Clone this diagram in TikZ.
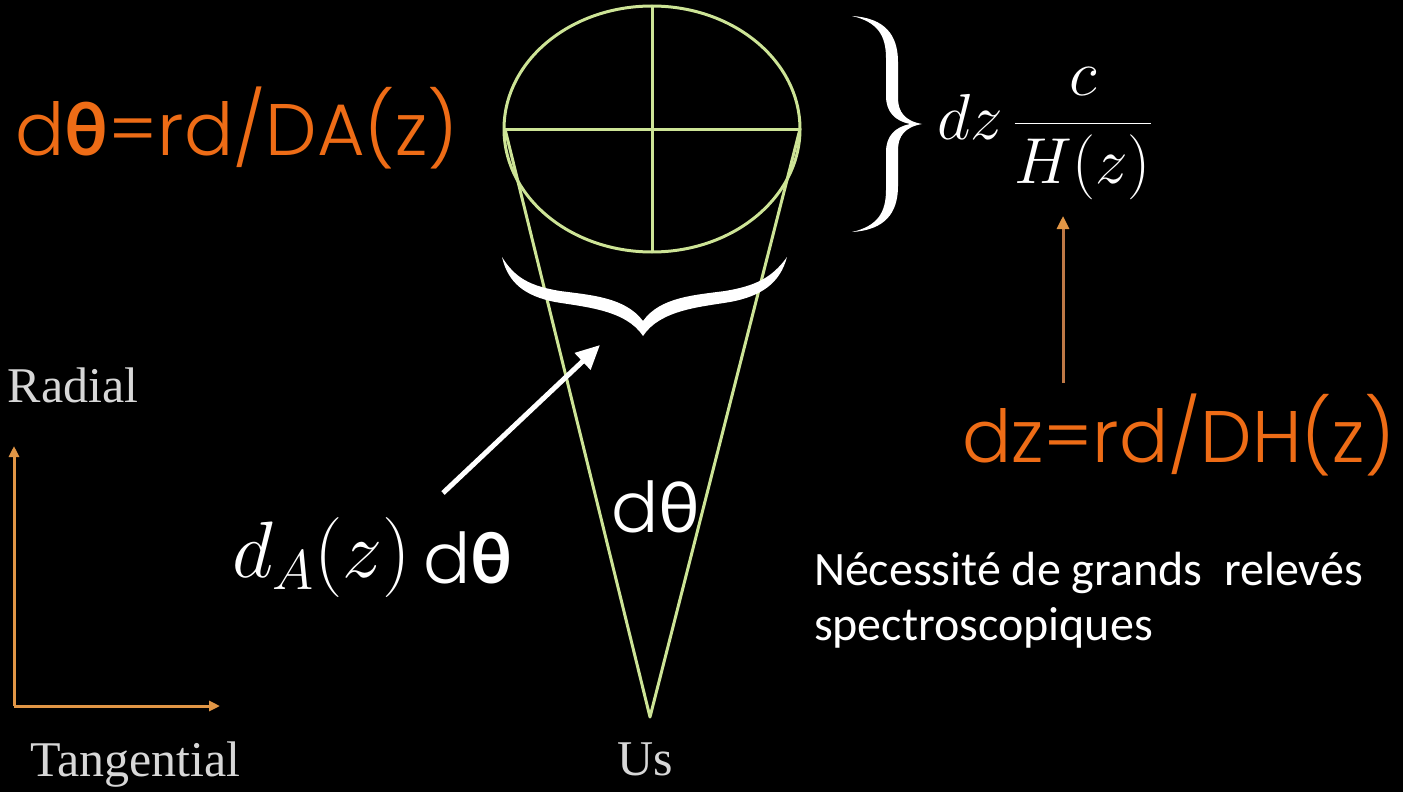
\RequirePackage{fix-cm}
\documentclass[tikz,border=0pt]{standalone}
\usepackage{fontspec}
\usetikzlibrary{arrows.meta}
\newfontfamily\geo{Poppins Light}
\newfontfamily\thfont{Lato}
\newfontfamily\carl{Carlito}
\newfontfamily\tms{Liberation Serif}
\definecolor{orng}{RGB}{238,108,22}
\definecolor{axisor}{RGB}{225,150,70}
\definecolor{arrbr}{RGB}{190,120,70}
\definecolor{cone}{RGB}{205,228,150}
\definecolor{serifgray}{RGB}{215,215,215}
\newcommand\bth{{\thfont\bfseries θ}}
\newcommand\rth{{\thfont θ}}
\tikzset{
  txt/.style={inner sep=0pt, outer sep=0pt, anchor=base west},
  bigsans/.style={txt, font=\geo\fontsize{73}{78}\selectfont},
  midsans/.style={txt, text=white, font=\geo\fontsize{70}{76}\selectfont},
  orangetxt/.style={bigsans, text=orng},
  serif/.style={txt, text=serifgray, font=\tms\fontsize{50}{54}\selectfont},
  necstyle/.style={txt, text=white, font=\carl\fontsize{48}{55}\selectfont},
  conel/.style={draw=cone, line width=3pt},
  axarrow/.style={draw=axisor, line width=3pt, -{Triangle[length=11pt,width=10pt]}},
}
\begin{document}
\begin{tikzpicture}[x=1pt,y=-1pt]
\fill[black] (0,0) rectangle (1403,792);
\useasboundingbox (0,0) rectangle (1403,792);

% cone and ellipse
\coordinate (eL) at (505,129);
\coordinate (eR) at (800,129);
\coordinate (eT) at (652,6);
\coordinate (eB) at (652,252);
\coordinate (apex) at (650,717);
\draw[conel] (652,129) ellipse [x radius=148pt, y radius=123pt];
\draw[conel] (eL) -- (eR);
\draw[conel] (eT) -- (eB);
\draw[conel, line join=round] (eL) -- (apex) -- (eR);

% lower brace
\fill[white] (502,257) .. controls (515,278) and (530,286) .. (560,291)
  .. controls (590,295) and (625,297) .. (643,321)
  .. controls (660,297) and (695,295) .. (725,291)
  .. controls (755,286) and (772,278) .. (787,257)
  .. controls (780,283) and (762,296) .. (730,302)
  .. controls (700,307) and (660,310) .. (643,336)
  .. controls (626,310) and (585,307) .. (555,302)
  .. controls (525,296) and (508,283) .. (502,257) -- cycle;

% right brace
\fill[white] (852,16) .. controls (885,18) and (898,35) .. (898,62) -- (898,98)
  .. controls (898,112) and (905,121) .. (922,124)
  .. controls (905,127) and (898,136) .. (898,150) -- (898,186)
  .. controls (898,213) and (885,230) .. (852,232)
  .. controls (878,226) and (886,212) .. (886,190) -- (886,152)
  .. controls (886,136) and (895,127) .. (910,124)
  .. controls (895,121) and (886,112) .. (886,96) -- (886,58)
  .. controls (886,36) and (878,22) .. (852,16) -- cycle;

% texts
\node[orangetxt] (eqA) at (15,155) {d\bth=rd/DA(z)};
\node[orangetxt] (eqH) at (962,462) {dz=rd/DH(z)};
\node[txt, text=white, font=\fontsize{65}{70}\selectfont] (frac) at (937,139) {$dz\,{\displaystyle\frac{c}{H(z)}}$};
\node[txt, text=white, font=\fontsize{80}{86}\selectfont] (dA) at (232,577) {$d_A(z)$};
\node[midsans] (dth1) at (423,583) {d\bth};
\node[midsans] (dth2) at (611,532) {d\rth};
\node[serif] (radial) at (8,402) {Radial};
\node[serif] (tang) at (30,776) {Tangential};
\node[serif] (us) at (617,775) {Us};
\node[necstyle] (nec1) at (814,585) {Nécessité de grands\ \ relevés};
\node[necstyle] (nec2) at (814,640) {spectroscopiques};

% arrows
\coordinate (wa1) at (443,493);
\coordinate (wa2) at (600,345);
\draw[white, line width=5pt, -{Triangle[length=24pt,width=22pt]}] (wa1) -- (wa2);

\coordinate (va1) at (1063,383);
\coordinate (va2) at (1063,216);
\draw[arrbr, line width=3pt, -{Triangle[length=13pt,width=12pt,color=axisor]}] (va1) -- (va2);

\coordinate (O) at (14,706);
\coordinate (Rt) at (14,446);
\coordinate (Tt) at (220,706);
\draw[axarrow] (O) -- (Rt);
\draw[axarrow] (O) -- (Tt);
\end{tikzpicture}
\end{document}
